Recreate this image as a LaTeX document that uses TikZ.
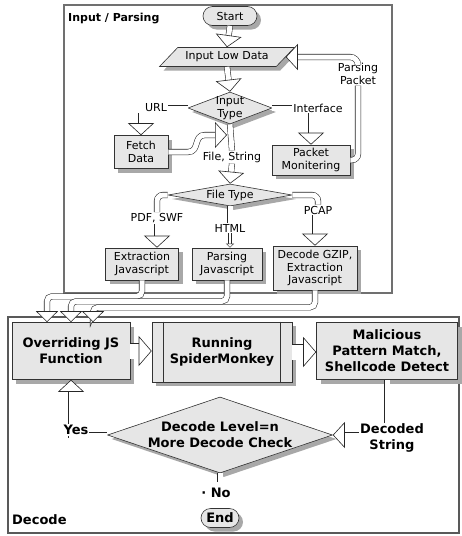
\documentclass[tikz,border=0pt]{standalone}
\usepackage{fontspec}
\setmainfont{DejaVu Sans}
\usetikzlibrary{shapes.geometric,shapes.misc,shadows,arrows.meta}
\definecolor{boxfill}{HTML}{E6E6E6}
\definecolor{shade}{HTML}{A8A8A8}
\definecolor{framec}{HTML}{707070}
\tikzset{
  shd/.style={drop shadow={shadow xshift=4pt, shadow yshift=-4pt, fill=shade, opacity=1}},
  box/.style={draw=black!80, fill=boxfill, line width=0.6pt, align=center, inner sep=1pt, shd},
  lbl/.style={font=\fontsize{11}{12.5}\selectfont, align=center, inner sep=1pt},
  blbl/.style={font=\bfseries\fontsize{13}{16}\selectfont, align=center, inner sep=1pt},
  tlbl/.style={font=\bfseries\fontsize{11}{12}\selectfont, inner sep=0pt, anchor=west},
  hline/.style={draw=black!85, line width=0.55pt, double=white, double distance=5pt},
  harrow/.style={hline, -{Triangle[length=12pt,width=26pt,line width=0.6pt,fill=white]}},
  sarrow/.style={hline, -{Triangle[length=11pt,width=22pt,line width=0.6pt,fill=white]}},
  tarrow/.style={hline, double distance=2pt, -{Triangle[length=4pt,width=8pt,line width=0.5pt,fill=white]}},
  warrow/.style={hline, double distance=15pt, -{Triangle[length=13pt,width=30pt,line width=0.6pt,fill=white]}},
  framest/.style={draw=framec, line width=1.5pt},
}
\begin{document}
\begin{tikzpicture}[x=1pt,y=-1pt]
\useasboundingbox (0,0) rectangle (461,536);
% frames
\draw[framest] (64,5) rectangle (392,293);
\draw[framest, draw=black!65] (8,317) rectangle (459,533);
\node[tlbl] (t1) at (68,19) {Input / Parsing};
\node[tlbl, font=\bfseries\fontsize{13}{14}\selectfont] (t2) at (12,520) {Decode};

% input / parsing nodes
\node[box, lbl, rounded rectangle, minimum width=56, minimum height=19] (start) at (230,16) {Start};
\node[box, lbl, trapezium, trapezium left angle=38, trapezium right angle=142, trapezium stretches=true, minimum width=135, minimum height=19] (ild) at (227,57) {Input Low Data};
\node[box, diamond, minimum width=84, minimum height=32, inner sep=0pt, label={[lbl]center:Input\\Type}] (itype) at (230,108) {};
\node[lbl] (url) at (156,108) {URL};
\node[lbl] (iface) at (318,108) {Interface};
\node[box, lbl, minimum width=54, minimum height=33] (fetch) at (141,152) {Fetch\\Data};
\node[box, lbl, minimum width=78, minimum height=30] (packet) at (311,160) {Packet\\Monitering};
\node[lbl] (pp) at (358,74) {Parsing\\Packet};
\node[lbl] (fs) at (232,157) {File, String};
\node[box, diamond, minimum width=124, minimum height=22, inner sep=0pt, label={[lbl]center:File Type}] (ftype) at (230,195) {};
\node[lbl] (pdf) at (157,218) {PDF, SWF};
\node[lbl] (html) at (230,228) {HTML};
\node[lbl] (pcap) at (318,210) {PCAP};
\node[box, lbl, minimum width=73, minimum height=32] (extr) at (142,264) {Extraction\\Javascript};
\node[box, lbl, minimum width=70, minimum height=32] (pjs) at (227,264) {Parsing\\Javascript};
\node[box, lbl, minimum width=84, minimum height=44] (gzip) at (315,268) {Decode GZIP,\\Extraction\\Javascript};

% decode nodes
\node[box, blbl, minimum width=118, minimum height=57] (over) at (71,351) {Overriding JS\\Function};
\node[box, blbl, minimum width=140, minimum height=60] (spider) at (222,352) {Running\\SpiderMonkey};
\draw[draw=black!80, line width=0.6pt] ([xshift=12pt]spider.north west) -- ([xshift=12pt]spider.south west)
      ([xshift=-12pt]spider.north east) -- ([xshift=-12pt]spider.south east);
\node[box, blbl, minimum width=141, minimum height=57] (mal) at (387,351) {Malicious\\Pattern Match,\\Shellcode Detect};
\node[box, diamond, minimum width=225, minimum height=76, inner sep=0pt, label={[blbl]center:Decode Level=n\\More Decode Check}] (dec) at (220,435) {};
\node[box, blbl, rounded rectangle, minimum width=40, minimum height=19] (endn) at (220,518) {End};

% connectors (input / parsing)
\draw[harrow] (start.south) -- (ild.north);
\draw[harrow] (ild.south) -- (itype.north);
\draw[hline] (itype.west) -- (url.east);
\draw[harrow] (url.south -| fetch.north) -- (fetch.north);
\draw[hline] (itype.east) -- (iface.west);
\draw[harrow] (iface.south -| packet.north) -- (packet.north);
\draw[hline] (itype.south) -- (fs.north);
\coordinate (join) at (227,135);
\draw[harrow] (fetch.east) -- (188,152) .. controls (200,152) and (193,135) .. (205,135) -- (join);
\draw[harrow] (fs.south) -- (ftype.north);
\draw[hline, rounded corners=6pt] (ftype.west) -| (pdf.north);
\draw[harrow] (pdf.south) -- (pdf.south |- extr.north);
\draw[hline] (ftype.south) -- (html.north);
\draw[tarrow] (html.south) -- (html.south |- pjs.north);
\draw[hline, rounded corners=6pt] (ftype.east) -| (pcap.north);
\draw[harrow] (pcap.south -| gzip.north) -- (gzip.north);
\draw[hline, rounded corners=6pt] (packet.east) -| (pp.south);
\draw[harrow, rounded corners=8pt] (pp.north) |- (ild.east);

% into decode
\coordinate (o1) at ([xshift=-24pt]over.north);
\coordinate (o2) at (over.north);
\coordinate (o3) at ([xshift=22pt]over.north);
\draw[sarrow, rounded corners=5pt] (extr.south) -- ++(0,16) -| (o1);
\draw[sarrow, rounded corners=5pt] (pjs.south) -- ++(0,21) -| (o2);
\draw[sarrow, rounded corners=5pt] (gzip.south) -- ++(0,17) -| (o3);

% decode connectors
\draw[warrow] (over.east) -- (over.east -| spider.west);
\draw[warrow] (spider.east) -- (spider.east -| mal.west);
\draw[harrow] (mal.south) |- (dec.east);
\draw[harrow] (dec.west) -| (over.south);
\draw[hline] (dec.south) -- (220,482);
\node[blbl, fill=white] (ds) at (392,438) {Decoded\\String};
\node[blbl, fill=white] (yes) at (76,430) {Yes};
\node[blbl] (no) at (216,493) {· No};
\end{tikzpicture}
\end{document}
